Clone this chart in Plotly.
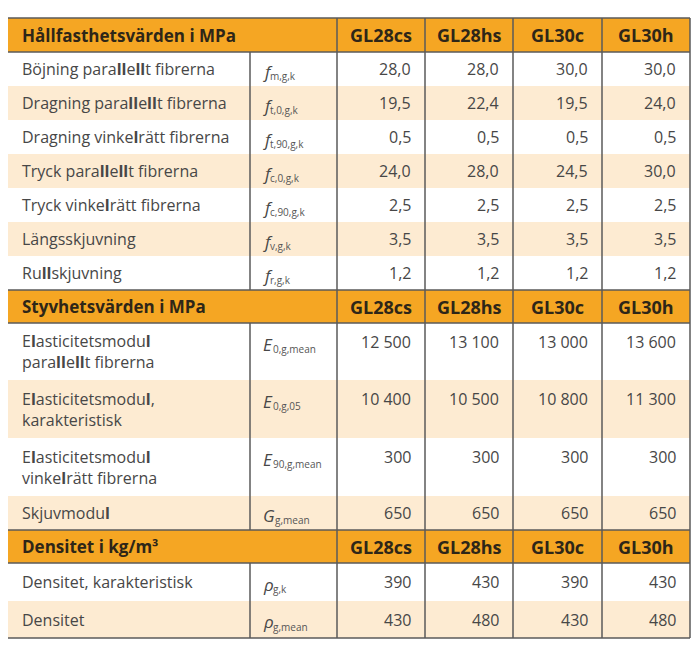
import plotly.graph_objects as go

# --- data ---
grades = ["GL28cs", "GL28hs", "GL30c", "GL30h"]

section_titles = ["Hållfasthetsvärden i MPa", "Styvhetsvärden i MPa", "Densitet i kg/m³"]

strength_labels = ["Böjning parallellt fibrerna", "Dragning parallellt fibrerna",
                   "Dragning vinkelrätt fibrerna", "Tryck parallellt fibrerna",
                   "Tryck vinkelrätt fibrerna", "Längsskjuvning", "Rullskjuvning"]
strength_symbols = [("f", "m,g,k"), ("f", "t,0,g,k"), ("f", "t,90,g,k"), ("f", "c,0,g,k"),
                    ("f", "c,90,g,k"), ("f", "v,g,k"), ("f", "r,g,k")]
# one list per grade (GL28cs, GL28hs, GL30c, GL30h)
strength_values = [[28.0, 19.5, 0.5, 24.0, 2.5, 3.5, 1.2],
                   [28.0, 22.4, 0.5, 28.0, 2.5, 3.5, 1.2],
                   [30.0, 19.5, 0.5, 24.5, 2.5, 3.5, 1.2],
                   [30.0, 24.0, 0.5, 30.0, 2.5, 3.5, 1.2]]

stiffness_labels = ["Elasticitetsmodul<br>parallellt fibrerna", "Elasticitetsmodul,<br>karakteristisk",
                    "Elasticitetsmodul<br>vinkelrätt fibrerna", "Skjuvmodul"]
stiffness_symbols = [("E", "0,g,mean"), ("E", "0,g,05"), ("E", "90,g,mean"), ("G", "g,mean")]
stiffness_values = [[12500, 10400, 300, 650],
                    [13100, 10500, 300, 650],
                    [13000, 10800, 300, 650],
                    [13600, 11300, 300, 650]]

density_labels = ["Densitet, karakteristisk", "Densitet"]
density_symbols = [("ρ", "g,k"), ("ρ", "g,mean")]
density_values = [[390, 430],
                  [430, 480],
                  [390, 430],
                  [430, 480]]

# --- layout (pixel units on hidden axes) ---
col_edges = [6, 250, 337, 425, 513, 602, 690]
table_top = 18
PAGE_OFFSET = 8  # default body margin of the html page
ORANGE = "#F5A623"
BEIGE = "#FDEBD2"
LINE = "#5a5a5a"
TEXT = "#474747"
HEAD_TEXT = "#2e2618"
FONT = "Open Sans"
# advance of the italic symbol letter, used to place its subscript
SYM_ADVANCE = {"f": 6.5, "E": 10, "G": 12, "ρ": 10}


def fmt_dec(v):
    return f"{v:.1f}".replace(".", ",")


def fmt_int(v):
    return f"{v:,}".replace(",", " ")


def bold_l(s):
    # the source font renders lowercase l noticeably heavier
    return s.replace("l", "<b>l</b>")


sections = [
    (section_titles[0], strength_labels, strength_symbols, strength_values, fmt_dec, [34] * 7, 34),
    (section_titles[1], stiffness_labels, stiffness_symbols, stiffness_values, fmt_int, [57, 58, 58, 34], 33),
    (section_titles[2], density_labels, density_symbols, density_values, fmt_int, [38, 37], 33),
]

shapes = []
annotations = []
h_lines = []
y = table_top

for title, labels, symbols, values, fmt, heights, head_h in sections:
    # section header row
    shapes.append(dict(type="rect", x0=col_edges[0], x1=col_edges[-1], y0=y, y1=y + head_h,
                       fillcolor=ORANGE, line_width=0, layer="below"))
    h_lines += [y, y + head_h]
    annotations.append(dict(x=col_edges[0] + 14, y=y + head_h / 2, text=f"<b>{title}</b>",
                            xanchor="left", yanchor="middle",
                            font=dict(family=FONT, size=17, color=HEAD_TEXT)))
    for j, g in enumerate(grades):
        annotations.append(dict(x=(col_edges[j + 2] + col_edges[j + 3]) / 2, y=y + head_h / 2,
                                text=f"<b>{g}</b>", xanchor="center", yanchor="middle",
                                font=dict(family=FONT, size=18, color=HEAD_TEXT)))
    y += head_h

    # data rows
    for i, label in enumerate(labels):
        h = heights[i]
        fill = "white" if i % 2 == 0 else BEIGE
        shapes.append(dict(type="rect", x0=col_edges[0], x1=col_edges[-1], y0=y, y1=y + h,
                           fillcolor=fill, line_width=0, layer="below"))
        shapes.append(dict(type="line", x0=col_edges[1], x1=col_edges[1], y0=y, y1=y + h,
                           line=dict(color=LINE, width=1.5)))
        annotations.append(dict(x=col_edges[0] + 14, y=y + h / 2, text=bold_l(label),
                                xanchor="left", yanchor="middle", align="left",
                                font=dict(family=FONT, size=16, color=TEXT)))
        first_line = y + min(h, 38) / 2
        base, sub = symbols[i]
        sx = col_edges[1] + 12
        annotations.append(dict(x=sx, y=first_line + 2, text=base, borderpad=0,
                                xanchor="left", yanchor="middle",
                                font=dict(family=FONT, size=17, color=TEXT, style="italic")))
        annotations.append(dict(x=sx + SYM_ADVANCE[base], y=first_line + 7, text=sub, borderpad=0,
                                xanchor="left", yanchor="middle",
                                font=dict(family=FONT, size=10, color="#555555")))
        for j in range(len(grades)):
            annotations.append(dict(x=col_edges[j + 3] - 12, y=first_line,
                                    text=fmt(values[j][i]), xanchor="right", yanchor="middle",
                                    font=dict(family=FONT, size=16, color=TEXT)))
        y += h

table_bottom = y
h_lines.append(table_bottom)

for yy in h_lines:
    shapes.append(dict(type="line", x0=col_edges[0], x1=col_edges[-1], y0=yy, y1=yy,
                       line=dict(color=LINE, width=1.5)))
for xx in [col_edges[0]] + col_edges[2:]:
    shapes.append(dict(type="line", x0=xx, x1=xx, y0=table_top, y1=table_bottom,
                       line=dict(color=LINE, width=1.5)))

for a in annotations:
    a.update(xref="x", yref="y", showarrow=False)

W, H = 700, 647
fig = go.Figure()
fig.update_layout(
    width=W - PAGE_OFFSET, height=H - PAGE_OFFSET,
    margin=dict(l=0, r=0, t=0, b=0),
    paper_bgcolor="white", plot_bgcolor="white",
    xaxis=dict(range=[PAGE_OFFSET, W], visible=False, fixedrange=True),
    yaxis=dict(range=[H, PAGE_OFFSET], visible=False, fixedrange=True),
    shapes=shapes,
    annotations=annotations,
    showlegend=False,
)

fig.write_html("out.html")
